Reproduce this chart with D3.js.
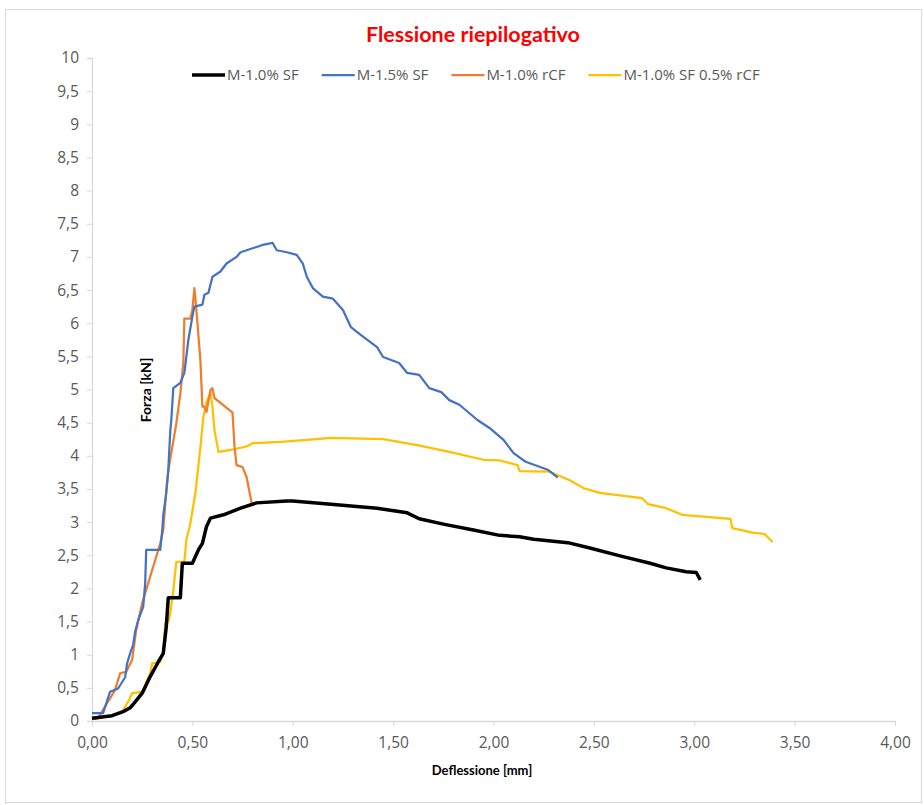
<!DOCTYPE html>
<html>
<head>
<meta charset="utf-8">
<script src="https://cdn.jsdelivr.net/npm/d3@7"></script>
<style>
  body { margin: 0; background: #fff; }
  svg { display: block; font-family: "Open Sans", sans-serif; }
</style>
</head>
<body>
<svg id="chart" width="924" height="805"></svg>
<script>
'use strict';

// series (deflection mm / force kN)
const sf10X = [0, 0.1, 0.155, 0.19, 0.21, 0.25, 0.29, 0.33, 0.355, 0.37, 0.38, 0.44, 0.45, 0.50, 0.53, 0.55, 0.57, 0.59, 0.655, 0.74, 0.82, 0.97, 1.0, 1.19, 1.42, 1.57, 1.63, 1.75, 1.9, 2.03, 2.13, 2.2, 2.37, 2.48, 2.63, 2.78, 2.86, 2.96, 3.01, 3.03];
const sf10Y = [0.04, 0.08, 0.14, 0.2, 0.27, 0.42, 0.67, 0.89, 1.02, 1.42, 1.86, 1.86, 2.38, 2.38, 2.58, 2.68, 2.93, 3.06, 3.11, 3.21, 3.29, 3.32, 3.32, 3.27, 3.21, 3.14, 3.05, 2.97, 2.88, 2.80, 2.78, 2.74, 2.69, 2.61, 2.49, 2.38, 2.31, 2.25, 2.24, 2.13];

const sf15X = [0, 0.055, 0.09, 0.13, 0.165, 0.175, 0.19, 0.205, 0.215, 0.23, 0.255, 0.265, 0.27, 0.34, 0.35, 0.355, 0.37, 0.38, 0.39, 0.395, 0.405, 0.44, 0.46, 0.48, 0.5, 0.51, 0.55, 0.56, 0.58, 0.6, 0.64, 0.67, 0.72, 0.74, 0.8, 0.85, 0.9, 0.92, 0.97, 1.02, 1.05, 1.07, 1.1, 1.15, 1.2, 1.25, 1.29, 1.34, 1.42, 1.45, 1.53, 1.57, 1.63, 1.68, 1.74, 1.78, 1.83, 1.92, 1.98, 2.05, 2.1, 2.16, 2.27, 2.32];
const sf15Y = [0.12, 0.12, 0.44, 0.49, 0.66, 0.87, 1.02, 1.15, 1.35, 1.52, 1.72, 2.08, 2.58, 2.58, 2.88, 3.1, 3.44, 3.78, 4.38, 4.54, 5.02, 5.1, 5.25, 5.75, 6.1, 6.25, 6.28, 6.43, 6.46, 6.7, 6.78, 6.9, 7.0, 7.07, 7.13, 7.18, 7.21, 7.1, 7.07, 7.03, 6.9, 6.7, 6.53, 6.4, 6.37, 6.2, 5.94, 5.82, 5.64, 5.49, 5.4, 5.25, 5.22, 5.02, 4.96, 4.84, 4.77, 4.54, 4.42, 4.24, 4.04, 3.91, 3.79, 3.67];

const rcfX = [0, 0.03, 0.055, 0.09, 0.115, 0.14, 0.17, 0.2, 0.22, 0.25, 0.28, 0.31, 0.34, 0.355, 0.37, 0.38, 0.40, 0.42, 0.44, 0.455, 0.46, 0.49, 0.5, 0.51, 0.52, 0.54, 0.55, 0.56, 0.57, 0.59, 0.6, 0.61, 0.64, 0.70, 0.71, 0.72, 0.75, 0.77, 0.795];
const rcfY = [0.03, 0.04, 0.17, 0.34, 0.47, 0.72, 0.74, 0.92, 1.37, 1.78, 2.08, 2.38, 2.68, 2.88, 3.48, 3.78, 4.13, 4.49, 4.94, 5.4, 6.07, 6.07, 6.2, 6.53, 6.2, 5.44, 4.74, 4.74, 4.66, 4.99, 5.02, 4.87, 4.8, 4.65, 4.13, 3.86, 3.83, 3.68, 3.29];

const mixX = [0, 0.1, 0.15, 0.18, 0.2, 0.25, 0.265, 0.29, 0.3, 0.34, 0.355, 0.365, 0.38, 0.39, 0.405, 0.42, 0.46, 0.47, 0.49, 0.515, 0.54, 0.555, 0.57, 0.59, 0.6, 0.61, 0.63, 0.69, 0.77, 0.8, 0.94, 1.07, 1.19, 1.45, 1.62, 1.78, 1.95, 2.03, 2.12, 2.13, 2.28, 2.38, 2.45, 2.53, 2.74, 2.77, 2.86, 2.94, 3.18, 3.19, 3.29, 3.35, 3.39];
const mixY = [0.03, 0.08, 0.14, 0.29, 0.42, 0.44, 0.54, 0.72, 0.87, 0.89, 1.02, 1.47, 1.5, 1.62, 1.97, 2.4, 2.4, 2.73, 2.98, 3.44, 4.13, 4.59, 4.81, 4.95, 4.74, 4.39, 4.06, 4.09, 4.14, 4.19, 4.21, 4.24, 4.27, 4.25, 4.16, 4.06, 3.94, 3.93, 3.86, 3.77, 3.76, 3.63, 3.51, 3.44, 3.36, 3.27, 3.21, 3.11, 3.05, 2.91, 2.84, 2.82, 2.7];

const seriesNames = ["M-1.0% SF", "M-1.5% SF", "M-1.0% rCF", "M-1.0% SF 0.5% rCF"];
const seriesColors = ["#000000", "#4472C4", "#ED7D31", "#FFC000"];
const seriesWidths = [3.5, 2.25, 2.25, 2.25];

const xTicks = [0, 0.5, 1, 1.5, 2, 2.5, 3, 3.5, 4];
const yTicks = [0, 0.5, 1, 1.5, 2, 2.5, 3, 3.5, 4, 4.5, 5, 5.5, 6, 6.5, 7, 7.5, 8, 8.5, 9, 9.5, 10];

const series = [
  { name: seriesNames[0], pts: d3.zip(sf10X, sf10Y) },
  { name: seriesNames[1], pts: d3.zip(sf15X, sf15Y) },
  { name: seriesNames[2], pts: d3.zip(rcfX, rcfY) },
  { name: seriesNames[3], pts: d3.zip(mixX, mixY) }
];

const svg = d3.select("#chart");

// outer frame
svg.append("rect")
  .attr("x", 5.5).attr("y", 9.5)
  .attr("width", 916).attr("height", 793)
  .attr("fill", "#fff")
  .attr("stroke", "#d9d9d9");

const x = d3.scaleLinear().domain([0, 4]).range([92, 895]);
const y = d3.scaleLinear().domain([0, 10]).range([721, 58]);

const comma = function(v, digits) {
  return d3.format("." + digits + "f")(v).replace(".", ",");
};

// y axis
const yAxis = svg.append("g")
  .attr("transform", "translate(92,0)")
  .call(d3.axisLeft(y).tickValues(yTicks).tickSize(5).tickPadding(8)
    .tickFormat(function(d) { return Number.isInteger(d) ? String(d) : comma(d, 1); }));

// x axis
const xAxis = svg.append("g")
  .attr("transform", "translate(0,721)")
  .call(d3.axisBottom(x).tickValues(xTicks).tickSize(5).tickPadding(11)
    .tickFormat(function(d) { return comma(d, 2); }));

[xAxis, yAxis].forEach(function(ax) {
  ax.select(".domain").attr("stroke", "#d9d9d9").attr("stroke-width", 1.3);
  ax.selectAll(".tick line").attr("stroke", "#d9d9d9");
  ax.selectAll(".tick text")
    .attr("fill", "#595959")
    .style("font-size", "15.5px")
    .style("font-family", "'Open Sans', sans-serif");
});

// lines
const line = d3.line()
  .x(function(d) { return x(d[0]); })
  .y(function(d) { return y(d[1]); });

const order = [3, 2, 1, 0];
order.forEach(function(i) {
  svg.append("path")
    .datum(series[i].pts)
    .attr("d", line)
    .attr("fill", "none")
    .attr("stroke", seriesColors[i])
    .attr("stroke-width", seriesWidths[i])
    .attr("stroke-linejoin", "round");
});

// title
svg.append("text")
  .attr("x", 473).attr("y", 42)
  .attr("text-anchor", "middle")
  .attr("fill", "#ff0000")
  .style("font-family", "Lato, sans-serif")
  .style("font-size", "21.5px")
  .style("font-weight", "bold")
  .text("Flessione riepilogativo");

// axis titles
svg.append("text")
  .attr("x", 482).attr("y", 775)
  .attr("text-anchor", "middle")
  .attr("fill", "#000")
  .style("font-family", "Lato, sans-serif")
  .style("font-size", "13px")
  .style("font-weight", "bold")
  .text("Deflessione [mm]");

svg.append("text")
  .attr("transform", "translate(151,390) rotate(-90)")
  .attr("text-anchor", "middle")
  .attr("fill", "#000")
  .style("font-family", "Lato, sans-serif")
  .style("font-size", "14px")
  .style("font-weight", "bold")
  .text("Forza [kN]");

// legend
const legend = svg.append("g").attr("transform", "translate(0,75)");
let lx = 192;
seriesNames.forEach(function(name, i) {
  legend.append("line")
    .attr("x1", lx).attr("x2", lx + 33)
    .attr("y1", 0).attr("y2", 0)
    .attr("stroke", seriesColors[i])
    .attr("stroke-width", seriesWidths[i]);
  const t = legend.append("text")
    .attr("x", lx + 35).attr("y", 5)
    .attr("fill", "#595959")
    .style("font-size", "15px")
    .text(name);
  lx += 35 + t.node().getComputedTextLength() + 23;
});
</script>
</body>
</html>
